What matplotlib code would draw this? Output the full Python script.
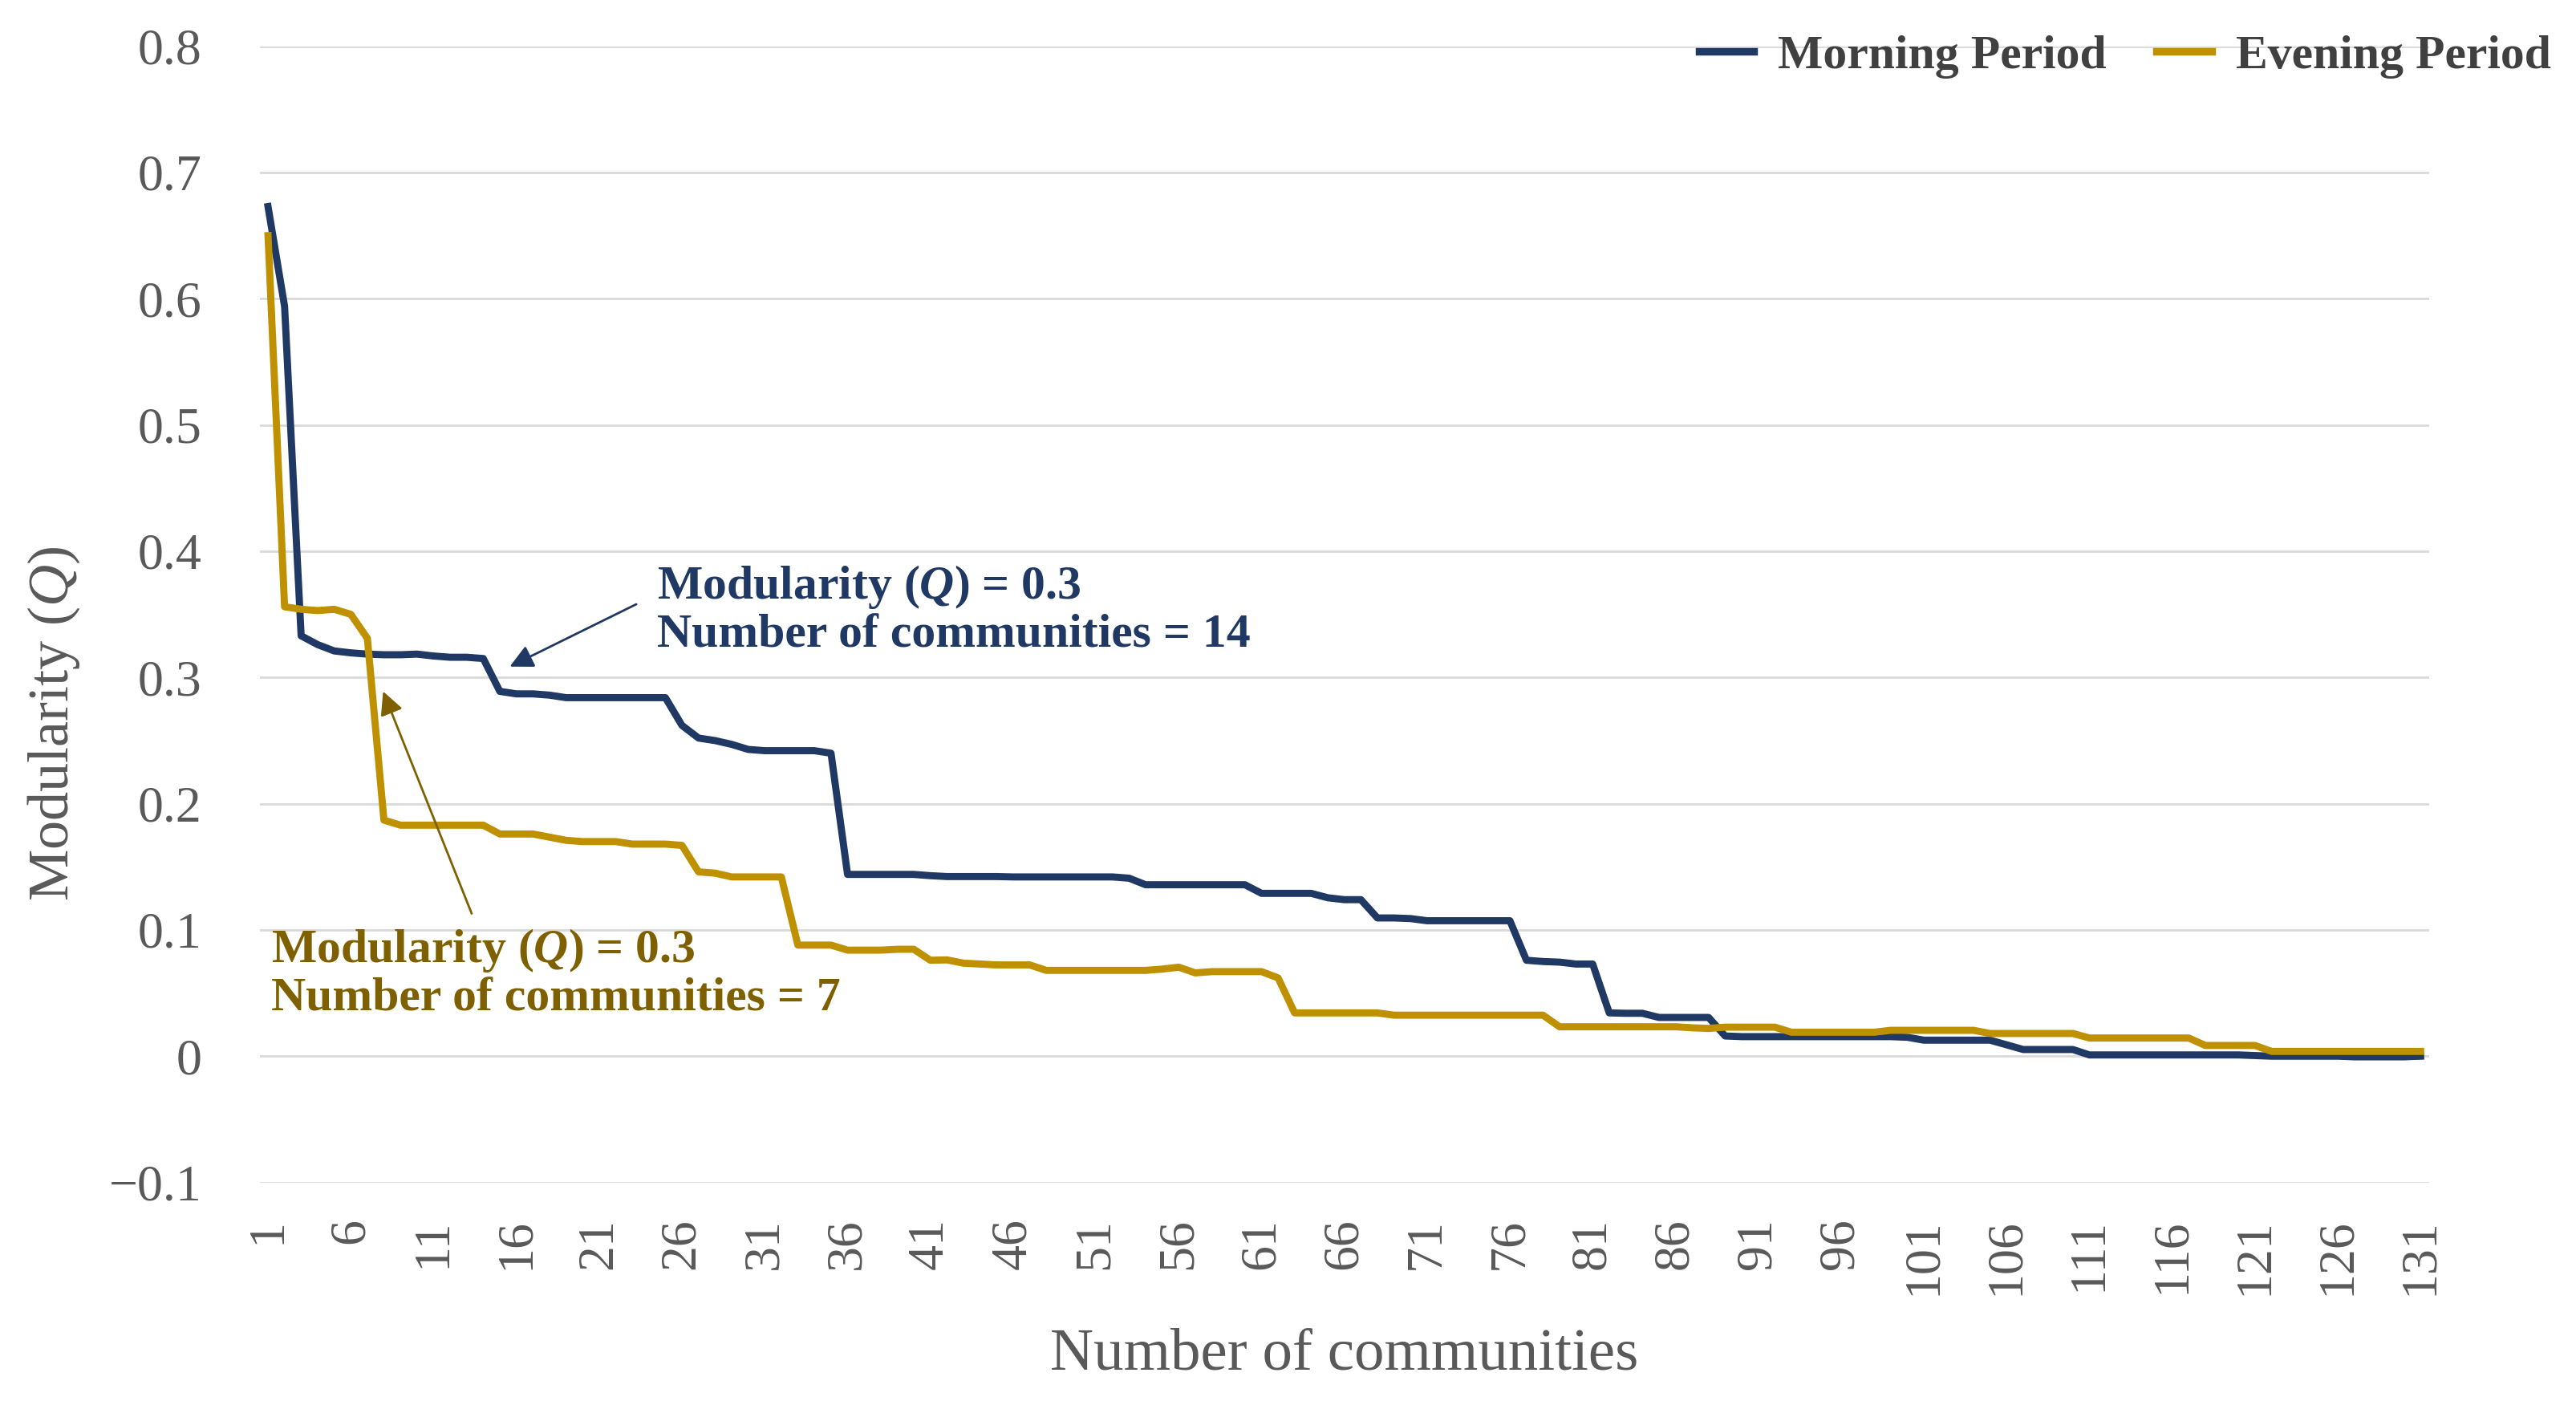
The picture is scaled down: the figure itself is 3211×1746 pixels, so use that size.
import matplotlib
matplotlib.use("Agg")
import matplotlib.pyplot as plt

# ---------------- data ----------------
communities = list(range(1, 132))
tick_positions = list(range(1, 132, 5))
tick_labels = [str(v) for v in tick_positions]

morning = (
    [0.673, 0.594, 0.333, 0.326, 0.321, 0.3195, 0.3185, 0.318, 0.318, 0.3185]
    + [0.317, 0.316, 0.316, 0.315, 0.289, 0.287, 0.287, 0.286, 0.284, 0.284]
    + [0.284, 0.284, 0.284, 0.284, 0.284, 0.262, 0.252, 0.250, 0.247, 0.243]
    + [0.242, 0.242, 0.242, 0.242, 0.240, 0.144, 0.144, 0.144, 0.144, 0.144]
    + [0.143, 0.1423, 0.1423, 0.1423, 0.1423, 0.142, 0.142, 0.142, 0.142, 0.142]
    + [0.142, 0.142, 0.141, 0.1358, 0.1358, 0.1358, 0.1358, 0.1358, 0.1358, 0.1358]
    + [0.129, 0.129, 0.129, 0.129, 0.1255, 0.124, 0.124, 0.1095, 0.1095, 0.109]
    + [0.1073, 0.1073, 0.1073, 0.1073, 0.1073, 0.1073, 0.076, 0.075, 0.0745, 0.073]
    + [0.073, 0.0343, 0.034, 0.034, 0.0307, 0.0307, 0.0307, 0.0307, 0.016, 0.0155]
    + [0.0155, 0.0155, 0.0155, 0.0155, 0.0155, 0.0155, 0.0155, 0.0155, 0.0155, 0.015]
    + [0.0127, 0.0127, 0.0127, 0.0127, 0.0127, 0.009, 0.0053, 0.0053, 0.0053, 0.0053]
    + [0.001, 0.001, 0.001, 0.001, 0.001, 0.001, 0.001, 0.001, 0.001, 0.001]
    + [0.0005, 0.0, 0.0, 0.0, 0.0, 0.0, -0.0005, -0.0005, -0.0005, -0.0005, 0.0]
)

evening = (
    [0.650, 0.356, 0.354, 0.353, 0.354, 0.350, 0.331, 0.187, 0.183, 0.183]
    + [0.183, 0.183, 0.183, 0.183, 0.176, 0.176, 0.176, 0.1735, 0.171, 0.170]
    + [0.170, 0.170, 0.168, 0.168, 0.168, 0.167, 0.146, 0.145, 0.142, 0.142]
    + [0.142, 0.142, 0.088, 0.088, 0.088, 0.084, 0.084, 0.084, 0.0847, 0.0847]
    + [0.076, 0.0763, 0.0737, 0.073, 0.0723, 0.0723, 0.0723, 0.068, 0.068, 0.068]
    + [0.068, 0.068, 0.068, 0.068, 0.069, 0.0705, 0.066, 0.067, 0.067, 0.067]
    + [0.067, 0.062, 0.0343, 0.0343, 0.0343, 0.0343, 0.0343, 0.0343, 0.0325, 0.0325]
    + [0.0325, 0.0325, 0.0325, 0.0325, 0.0325, 0.0325, 0.0325, 0.0325, 0.0233, 0.0233]
    + [0.0233, 0.0233, 0.0233, 0.0233, 0.0233, 0.0233, 0.0225, 0.022, 0.023, 0.023]
    + [0.023, 0.023, 0.019, 0.019, 0.019, 0.019, 0.019, 0.019, 0.0205, 0.0205]
    + [0.0205, 0.0205, 0.0205, 0.0205, 0.018, 0.018, 0.018, 0.018, 0.018, 0.018]
    + [0.0144, 0.0144, 0.0144, 0.0144, 0.0144, 0.0144, 0.0144, 0.0085, 0.0085, 0.0085]
    + [0.0085, 0.0038, 0.0038, 0.0038, 0.0038, 0.0038, 0.0038, 0.0038, 0.0038, 0.0038, 0.0038]
)

series_names = ["Morning Period", "Evening Period"]
y_ticks = [-0.1, 0.0, 0.1, 0.2, 0.3, 0.4, 0.5, 0.6, 0.7, 0.8]
y_tick_labels = ["\u22120.1", "0", "0.1", "0.2", "0.3", "0.4", "0.5", "0.6", "0.7", "0.8"]

# ---------------- style ----------------
NAVY = "#1F3864"
GOLD = "#BF9000"
DARK_GOLD = "#7F6000"
GRAY = "#595959"
SERIF = "Liberation Serif"

plt.rcParams["font.family"] = [SERIF, "DejaVu Serif"]
plt.rcParams["mathtext.fontset"] = "custom"
plt.rcParams["mathtext.rm"] = SERIF
plt.rcParams["mathtext.it"] = SERIF + ":italic"
plt.rcParams["mathtext.bf"] = SERIF + ":bold:italic"

fig = plt.figure(figsize=(16.06, 8.73), dpi=200)
ax = fig.add_axes([0.1008, 0.156, 0.8418, 0.811])

ax.plot(communities, morning, color=NAVY, lw=3.2, label=series_names[0], zorder=3)
ax.plot(communities, evening, color=GOLD, lw=3.2, label=series_names[1], zorder=3)

ax.set_xlim(0.5, 131.5)
ax.set_ylim(-0.1, 0.8)
ax.set_yticks(y_ticks)
ax.set_yticklabels(y_tick_labels)
ax.set_xticks(tick_positions)
ax.set_xticklabels(tick_labels, rotation=90)
ax.grid(axis="y", color="#D9D9D9", lw=1.0, zorder=0)
ax.grid(axis="x", visible=False)
for s in ax.spines.values():
    s.set_visible(False)
ax.tick_params(axis="both", length=0, colors=GRAY, labelsize=23)
ax.tick_params(axis="y", pad=26)
ax.tick_params(axis="x", pad=16)

ax.set_xlabel("Number of communities", fontsize=27, color=GRAY)
ax.xaxis.set_label_coords(0.5, -0.128)
ax.set_ylabel(r"Modularity ($Q$)", fontsize=26, color=GRAY)
ax.yaxis.set_label_coords(-0.082, 0.404)

# annotations
ax.text(24.5, 0.353, "Modularity ($\\mathbf{Q}$) = 0.3\nNumber of communities = 14",
        color=NAVY, fontsize=21.5, fontweight="bold", ha="left", va="center",
        linespacing=1.1)
ax.annotate("", xy=(15.6, 0.3086), xytext=(23.24, 0.358),
            arrowprops=dict(arrowstyle="-|>", color=NAVY, lw=1.0,
                            mutation_scale=22, shrinkA=0, shrinkB=0))

ax.text(1.2, 0.065, "Modularity ($\\mathbf{Q}$) = 0.3\nNumber of communities = 7",
        color=DARK_GOLD, fontsize=21.5, fontweight="bold", ha="left", va="center",
        linespacing=1.1)
ax.annotate("", xy=(7.95, 0.289), xytext=(13.3, 0.113),
            arrowprops=dict(arrowstyle="-|>", color=DARK_GOLD, lw=1.0,
                            mutation_scale=22, shrinkA=0, shrinkB=0))

leg = fig.legend(loc="upper right", bbox_to_anchor=(1.003, 0.999), ncol=2,
                 frameon=False, prop={"family": SERIF, "weight": "bold", "size": 21.5},
                 handlelength=1.15, handletextpad=0.5, columnspacing=1.05,
                 borderaxespad=0.3)
for t in leg.get_texts():
    t.set_color("#404040")
for h in leg.legend_handles:
    h.set_linewidth(3.4)

fig.savefig("out.png", dpi=200, facecolor="white")
